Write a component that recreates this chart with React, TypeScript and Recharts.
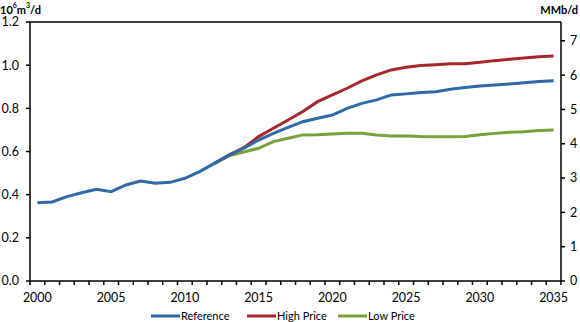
import { LineChart, Line, XAxis, YAxis, ReferenceLine, Legend } from 'recharts';

const years = [
  2000, 2001, 2002, 2003, 2004, 2005, 2006, 2007, 2008, 2009, 2010, 2011,
  2012, 2013, 2014, 2015, 2016, 2017, 2018, 2019, 2020, 2021, 2022, 2023,
  2024, 2025, 2026, 2027, 2028, 2029, 2030, 2031, 2032, 2033, 2034, 2035,
];

// 10^6 m3/d
const reference = [
  0.363, 0.366, 0.391, 0.409, 0.425, 0.414, 0.445, 0.463, 0.453, 0.457, 0.476, 0.507,
  0.545, 0.584, 0.615, 0.653, 0.684, 0.712, 0.738, 0.754, 0.769, 0.800, 0.823, 0.839,
  0.862, 0.867, 0.873, 0.877, 0.888, 0.897, 0.904, 0.908, 0.913, 0.919, 0.924, 0.928,
];
const highPrice = [
  null, null, null, null, null, null, null, null, null, null, null, null,
  0.545, 0.584, 0.618, 0.669, 0.708, 0.746, 0.785, 0.831, 0.862, 0.893, 0.927, 0.955,
  0.978, 0.990, 0.998, 1.002, 1.006, 1.007, 1.013, 1.021, 1.027, 1.033, 1.039, 1.043,
];
const lowPrice = [
  null, null, null, null, null, null, null, null, null, null, null, null,
  0.545, 0.580, 0.598, 0.615, 0.646, 0.661, 0.677, 0.678, 0.681, 0.684, 0.684, 0.677,
  0.672, 0.672, 0.669, 0.668, 0.668, 0.669, 0.678, 0.684, 0.689, 0.692, 0.697, 0.700,
];

const leftTicks = [0, 0.2, 0.4, 0.6, 0.8, 1.0, 1.2];
const rightTicks = [0, 1, 2, 3, 4, 5, 6, 7];
const M3_TO_BBL = 6.2898; // 1 m3 = 6.2898 bbl

const series = [
  { key: 'reference', name: 'Reference', color: '#2F69A6' },
  { key: 'high', name: 'High Price', color: '#A6282C' },
  { key: 'low', name: 'Low Price', color: '#77A13A' },
];

const data = years.map((y, i) => ({
  year: y,
  reference: reference[i],
  high: highPrice[i],
  low: lowPrice[i],
}));

const FONT = 'Lato, "Open Sans", sans-serif';
const HALF_BAND = 531 / years.length / 2;

function YearTick(props: any) {
  const { x, y, payload, index } = props;
  const label = payload.value % 5 === 0;
  return (
    <g>
      <line x1={x - HALF_BAND} x2={x - HALF_BAND} y1={y} y2={y + 4} stroke="#000" strokeWidth={1.5} />
      {index === years.length - 1 && (
        <line x1={x + HALF_BAND} x2={x + HALF_BAND} y1={y} y2={y + 4} stroke="#000" strokeWidth={1.5} />
      )}
      {label && (
        <text x={x} y={y + 17} dy="0.355em" textAnchor="middle" fontSize={12.5} fill="#000" fontFamily={FONT}>
          {payload.value}
        </text>
      )}
    </g>
  );
}

function LegendContent() {
  const items = [
    { ...series[0], x: 151 },
    { ...series[1], x: 247 },
    { ...series[2], x: 338 },
  ];
  return (
    <svg width={580} height={20} style={{ display: 'block' }}>
      {items.map(it => (
        <g key={it.key}>
          <line x1={it.x} x2={it.x + 29} y1={14} y2={14} stroke={it.color} strokeWidth={3} />
          <text x={it.x + 30} y={14} dy="0.355em" fontSize={11} fill="#000" fontFamily={FONT}>
            {it.name}
          </text>
        </g>
      ))}
    </svg>
  );
}

export default function App() {
  return (
    <div style={{ position: 'absolute', left: 0, top: 0, width: 580, height: 322, background: '#fff' }}>
      <LineChart width={580} height={322} data={data} margin={{ top: 22, right: 0, bottom: 0, left: 0 }}>
        <XAxis
          dataKey="year"
          interval={0}
          padding={{ left: HALF_BAND, right: HALF_BAND }}
          tick={<YearTick />}
          tickLine={false}
          tickSize={0}
          tickMargin={0}
          axisLine={{ stroke: '#000', strokeWidth: 1.5 }}
          height={21}
        />
        <YAxis
          yAxisId="left"
          domain={[0, 1.2]}
          ticks={leftTicks}
          tickFormatter={(v: number) => v.toFixed(1)}
          width={30}
          tickSize={4}
          tickMargin={7}
          tick={{ fontSize: 12.5, fill: '#000', fontFamily: FONT }}
          tickLine={{ stroke: '#000', strokeWidth: 1.5 }}
          axisLine={{ stroke: '#000', strokeWidth: 1.5 }}
        />
        <YAxis
          yAxisId="right"
          orientation="right"
          type="number"
          domain={[0, 1.2 * M3_TO_BBL]}
          allowDataOverflow
          ticks={rightTicks}
          width={19}
          tickSize={4}
          tickMargin={5}
          tick={{ fontSize: 12.5, fill: '#000', fontFamily: FONT }}
          tickLine={{ stroke: '#000', strokeWidth: 1.5 }}
          axisLine={{ stroke: '#000', strokeWidth: 1.5 }}
        />
        <ReferenceLine yAxisId="left" y={1.2} stroke="#000" strokeWidth={1.5} />
        <Legend verticalAlign="bottom" height={20} content={<LegendContent />} wrapperStyle={{ left: 0, width: 580 }} />
        <Line yAxisId="left" dataKey="low" name="Low Price" stroke="#77A13A" strokeWidth={3} dot={false} isAnimationActive={false} />
        <Line yAxisId="left" dataKey="high" name="High Price" stroke="#A6282C" strokeWidth={3} dot={false} isAnimationActive={false} />
        <Line yAxisId="left" dataKey="reference" name="Reference" stroke="#2F69A6" strokeWidth={3} dot={false} isAnimationActive={false} />
        <text x={0} y={9} fontSize={11} fontWeight="bold" fill="#000" fontFamily={FONT} dominantBaseline="central">
          10<tspan fontSize={7} dy={-4}>6</tspan><tspan dy={4}>m</tspan><tspan fontSize={7} dy={-4}>3</tspan><tspan dy={4}>/d</tspan>
        </text>
        <text x={578} y={9} fontSize={11} fontWeight="bold" fill="#000" fontFamily={FONT} textAnchor="end" dominantBaseline="central">
          MMb/d
        </text>
      </LineChart>
    </div>
  );
}
